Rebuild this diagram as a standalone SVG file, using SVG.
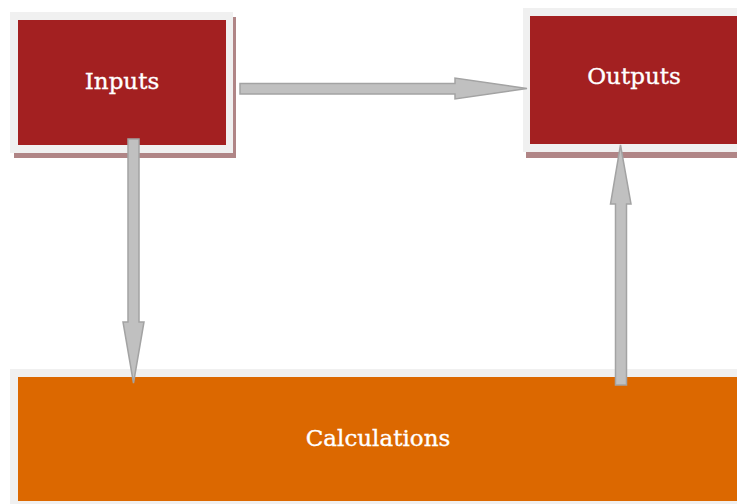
<svg xmlns="http://www.w3.org/2000/svg" width="737" height="504" viewBox="0 0 737 504">
<style>
.frame{fill:#f0f0f0}
.shadow{fill:#b08586}
.red{fill:#a32021}
.orange{fill:#dc6800}
.lbl{font-family:"DejaVu Serif","Liberation Serif",serif;font-size:23px;fill:#ffffff;stroke:#ffffff;stroke-width:0.35;text-anchor:middle}
.arrow{fill:#c0c0c0;stroke:#a3a3a3;stroke-width:1.5;stroke-linejoin:miter}
</style>
<rect width="737" height="504" fill="#ffffff"/>
<g id="inputs">
<rect class="shadow" x="14" y="17" width="222" height="141"/>
<rect class="frame" x="10" y="12" width="223" height="141"/>
<rect class="red" x="18" y="20" width="208" height="125"/>
<text class="lbl" x="122" y="89">Inputs</text>
</g>
<g id="outputs">
<rect class="shadow" x="526" y="14" width="220" height="144"/>
<rect class="frame" x="523" y="8" width="220" height="144"/>
<rect class="red" x="530" y="16" width="210" height="128"/>
<text class="lbl" x="634" y="84">Outputs</text>
</g>
<g id="calculations">
<rect class="frame" x="10" y="369" width="740" height="140"/>
<rect class="orange" x="18" y="377" width="730" height="124"/>
<text class="lbl" x="378" y="446">Calculations</text>
</g>
<g id="connectors">
<path class="arrow" d="M240,83.5 H455 V78 L527,88.5 L455,99 V94 H240 Z"/>
<path class="arrow" d="M128,139 H139 V322 H144 L133.5,383 L123,322 H128 Z"/>
<path class="arrow" d="M615.5,385 V204 H610.5 L620.5,145 L631,204 H626.5 V385 Z"/>
</g>
</svg>
